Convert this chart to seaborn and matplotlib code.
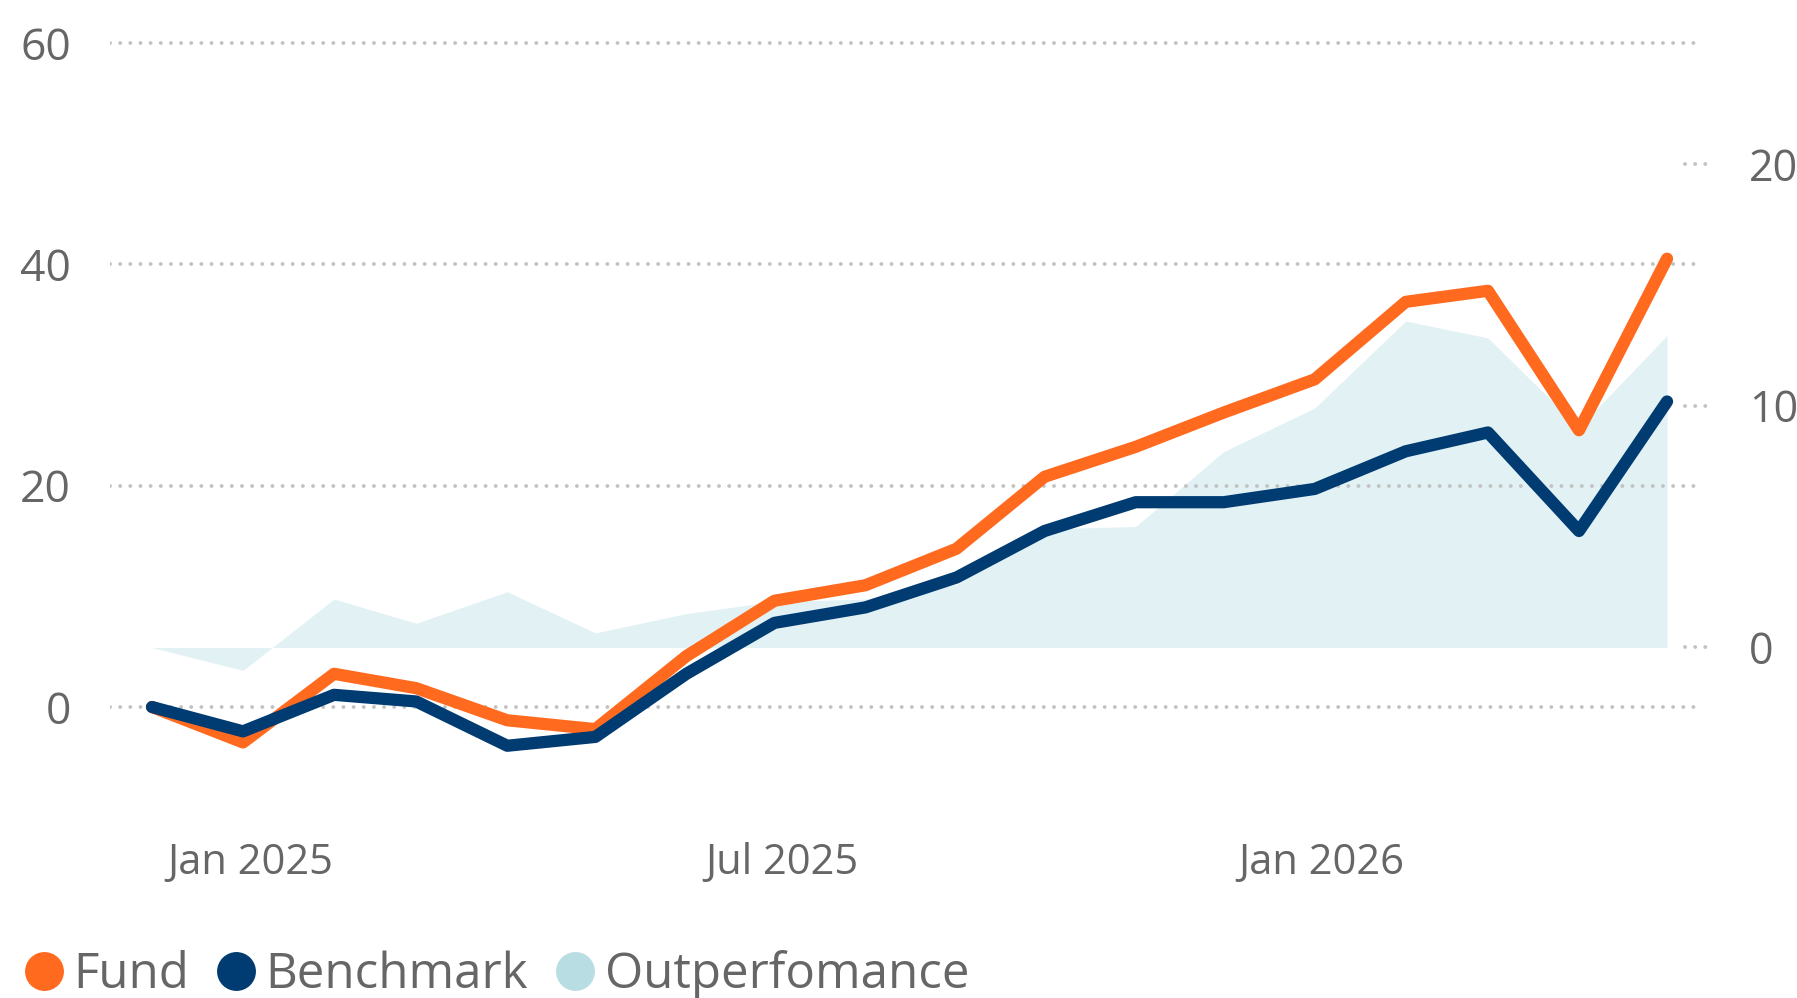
import pandas as pd
import matplotlib
matplotlib.use("Agg")
import matplotlib.pyplot as plt
import matplotlib.dates as mdates
from matplotlib.lines import Line2D
from matplotlib.transforms import ScaledTranslation
import seaborn as sns

# data
months = pd.date_range("2024-12-01", periods=18, freq="MS")
fund = [0.0, -3.2, 3.0, 1.7, -1.2, -2.0, 4.6, 9.6, 11.0, 14.3,
        20.8, 23.5, 26.6, 29.6, 36.6, 37.6, 25.0, 40.5]
benchmark = [0.0, -2.2, 1.1, 0.5, -3.5, -2.7, 3.0, 7.6, 9.0, 11.7,
             15.9, 18.5, 18.5, 19.7, 23.1, 24.8, 15.9, 27.6]
outperf = [0.0, -0.95, 2.0, 1.0, 2.3, 0.6, 1.4, 1.9, 2.0, 2.6,
           4.9, 5.0, 8.1, 9.9, 13.5, 12.8, 9.1, 12.9]
left_ticks = [0, 20, 40, 60]
right_ticks = [0, 10, 20]
x_ticks = ["2025-01-01", "2025-07-01", "2026-01-01"]

df = pd.DataFrame({"date": list(months) * 2,
                   "value": fund + benchmark,
                   "series": ["Fund"] * 18 + ["Benchmark"] * 18})

ORANGE = "#ff6a1f"
NAVY = "#003b71"
AREA = "#e1f1f4"
AREA_KEY = "#b8dde3"
TEXT = "#666666"
GRID = "#c2c2c2"

sns.set_theme(style="white")
plt.rcParams["font.family"] = ["Open Sans", "DejaVu Sans"]

fig = plt.figure(figsize=(17.97, 9.98), dpi=100)
W, H = 1797, 998
ax = fig.add_axes([110 / W, 1 - 800 / H, (1702 - 110) / W, (800 - 20) / H])
ax2 = ax.twinx()
ax.set_zorder(ax2.get_zorder() + 1)
ax.patch.set_visible(False)

# outperformance area on the right axis
ax2.fill_between(months, 0, outperf, color=AREA, linewidth=0)

sns.lineplot(data=df, x="date", y="value", hue="series",
             palette={"Fund": ORANGE, "Benchmark": NAVY},
             hue_order=["Fund", "Benchmark"], linewidth=8.8,
             solid_capstyle="round", solid_joinstyle="round",
             legend=False, ax=ax)

ax.set_xlim(months[0] - pd.Timedelta(days=14.3), months[-1] + pd.Timedelta(days=11.9))
ax.set_ylim(-8.4, 62.06)
ax2.set_ylim(-6.31, 25.95)

ax.set_yticks(left_ticks)
ax2.set_yticks(right_ticks)
ax.set_xticks(pd.to_datetime(x_ticks))
ax.xaxis.set_major_formatter(mdates.DateFormatter("%b %Y"))

dots = dict(color=GRID, linewidth=2.8, linestyle=(0, (0.01, 2.6)),
            dash_capstyle="round")
for v in left_ticks:
    ax.axhline(v, zorder=0.5, **dots)
for v in right_ticks:
    ax2.plot([0.9895, 1.0045], [v, v], transform=ax2.get_yaxis_transform(),
             clip_on=False, **dots)

for a in (ax, ax2):
    for s in a.spines.values():
        s.set_visible(False)
    a.grid(False)
    a.set_xlabel("")
    a.set_ylabel("")

ax.tick_params(axis="y", length=0, pad=28, labelsize=32, labelcolor=TEXT)
ax2.tick_params(axis="y", length=0, pad=34, labelsize=31, labelcolor=TEXT)
ax.tick_params(axis="x", length=0, pad=30, labelsize=30, labelcolor=TEXT)
shift = ScaledTranslation(5 / 72, 0, fig.dpi_scale_trans)
for lab in ax.get_xticklabels():
    lab.set_transform(lab.get_transform() + shift)

handles = [Line2D([], [], linestyle="", marker="o", markersize=28,
                  markerfacecolor=c, markeredgewidth=0)
           for c in (ORANGE, NAVY, AREA_KEY)]
leg = fig.legend(handles, ["Fund", "Benchmark", "Outperfomance"],
                 loc="center left", bbox_to_anchor=(24 / W, 1 - 975 / H),
                 ncol=3, frameon=False, fontsize=35.5, handlelength=0.8,
                 handletextpad=0.2, columnspacing=0.55, borderpad=0,
                 borderaxespad=0)
for t in leg.get_texts():
    t.set_color(TEXT)

fig.savefig("out.png", dpi=100)
